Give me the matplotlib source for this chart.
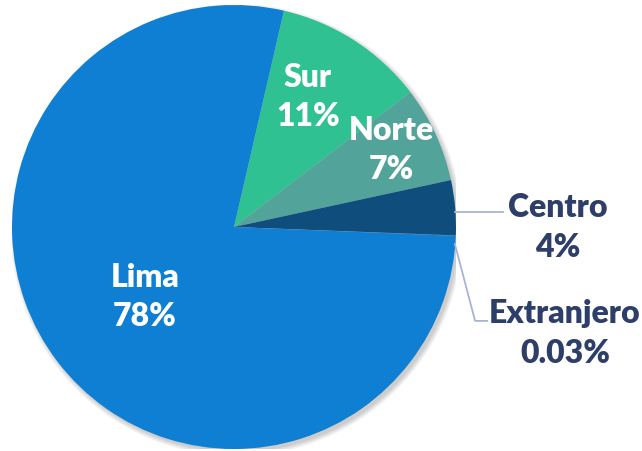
import matplotlib
matplotlib.use("Agg")
import matplotlib.pyplot as plt
from matplotlib.patches import Circle

regions = ["Sur", "Norte", "Centro", "Extranjero", "Lima"]
shares = [11, 7, 4, 0.03, 78]
colors = ["#2fc191", "#52a49a", "#0e4d7c", "#0e4d7c", "#0e7fd2"]

plt.rcParams['font.family'] = ['Lato', 'DejaVu Sans']

W, H = 642, 452
fig = plt.figure(figsize=(W / 100, H / 100), dpi=100)
cx, cy, r = 234, 228, 222
ax = fig.add_axes([(cx - r) / W, (H - cy - r) / H, 2 * r / W, 2 * r / H])

# soft shadow
for i, a in enumerate([0.05, 0.05, 0.05, 0.05]):
    ax.add_patch(Circle((0.012, -0.014), 1.0 + 0.006 * i, color='black', alpha=a,
                        lw=0, zorder=0))

wedges, _ = ax.pie(shares, colors=colors, startangle=77, counterclock=False,
                   radius=1.0, wedgeprops=dict(linewidth=0))
for w in wedges:
    w.set_zorder(1)

ax.set_xlim(-1, 1)
ax.set_ylim(-1, 1)
ax.set_aspect('equal')
ax.axis('off')

labels = [f"{n}\n{v:g}%" for n, v in zip(regions, shares)]
pos = {
    "Sur": (0.333, 0.59),
    "Norte": (0.707, 0.351),
    "Centro": (1.459, 0.004),
    "Extranjero": (1.491, -0.477),
    "Lima": (-0.401, -0.311),
}
inside = {"Sur", "Norte", "Lima"}
for n, lab in zip(regions, labels):
    x, y = pos[n]
    ax.text(x, y, lab, ha='center', va='center', fontsize=23, fontweight='heavy',
            color='white' if n in inside else '#2e3e6a', linespacing=1.45,
            zorder=5, clip_on=False)

lc = '#a8b4d6'
ax.plot([0.995, 1.212], [0.068, 0.068], color=lc, lw=1.3, clip_on=False, zorder=3)
ax.plot([0.995, 1.086, 1.14], [-0.077, -0.423, -0.423], color=lc, lw=1.3,
        clip_on=False, zorder=3)

fig.savefig("out.png", dpi=100)
